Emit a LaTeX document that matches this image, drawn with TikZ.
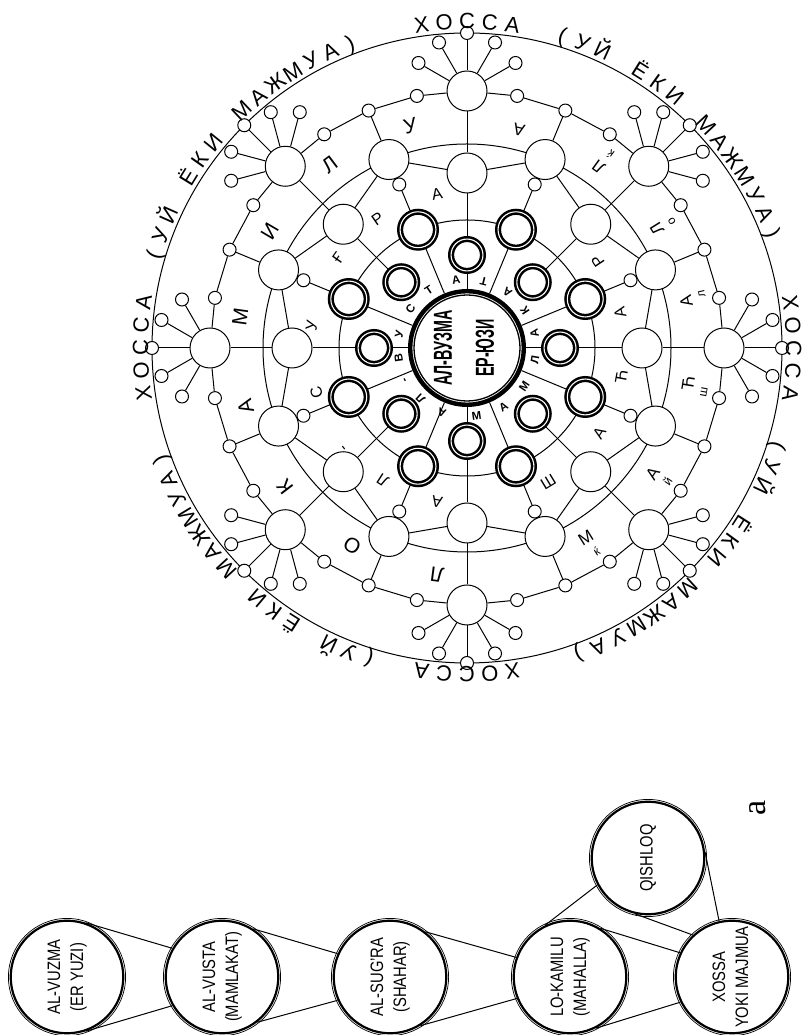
\documentclass[tikz,border=0pt]{standalone}
\usepackage{fontspec}
\setmainfont{Liberation Sans}
\newfontfamily\serifcap{Liberation Serif}
\usepackage{graphicx}
\usetikzlibrary{calc}

\pgfdeclarelayer{back}
\pgfsetlayers{back,main}

\newcommand\nar[1]{\scalebox{0.82}[1]{#1}}
\newcommand\cnd[1]{\scalebox{0.55}[1]{#1}}

\tikzset{
  ln/.style={line width=1pt},
  bigc/.style={circle,draw,fill=white,line width=1pt,minimum size=40pt,inner sep=0pt},
  smc/.style={circle,draw,fill=white,line width=1pt,minimum size=13pt,inner sep=0pt},
  dblc/.style={circle,draw,fill=white,double,line width=2.5pt,double distance=1.1pt,inner sep=0pt},
  hub/.style={circle,draw,fill=white,line width=4.4pt,minimum size=113.6pt,inner sep=0pt},
  capc/.style={circle,draw,fill=white,line width=2.2pt,minimum size=112.6pt,inner sep=0pt,
    font=\fontsize{18pt}{23pt}\selectfont},
  lbl/.style={inner sep=0pt,anchor=base,font=\fontsize{22pt}{24pt}\selectfont},
  let/.style={inner sep=0pt,font=\fontsize{#1pt}{#1pt}\selectfont},
  blet/.style={inner sep=0pt,font=\fontsize{11.5pt}{11.5pt}\selectfont\bfseries}
}

\begin{document}
\begin{tikzpicture}[x=1pt,y=1pt]
  \useasboundingbox (0,0) rectangle (802,1035);

  % --- the round scheme
  \begin{scope}[shift={(467,687)}]
    \node[hub] (ctr) at (0,0) {};
    \draw[line width=1.3pt] (ctr.center) circle (53pt);
    \foreach \k in {0,...,7} {
      \pgfmathsetmacro\angA{45*\k}
      \pgfmathsetmacro\angB{45*\k+22.5}
      \node[smc] (out\k) at (\angA:315) {};
      \node[bigc] (big\k) at (\angA:257) {};
      \node[bigc] (mid\k) at (\angA:175) {};
      \node[dblc,minimum size=31.9pt] (thi\k) at (\angA:93) {};
      \node[bigc] (rng\k) at (\angB:204) {};
      \node[smc] (rs\k) at (\angB:177) {};
      \node[dblc,minimum size=35.9pt] (tho\k) at (\angB:128) {};
      \foreach \i in {1,2,3}
        \node[smc] (pl\k\i) at (\angA+11.25*\i:257) {};
      \foreach \s/\j in {-60/1,-30/2,30/3,60/4}
        \node[smc] (sp\k\j) at ($(\angA:257)+(\angA+\s:56)$) {};
    }

    \begin{pgfonlayer}{back}
      \draw[ln] (0,0) circle (315pt) (0,0) circle (204pt) (0,0) circle (128pt);
      \foreach \k in {0,...,7} {
        \pgfmathtruncatemacro\nx{mod(\k+1,8)}
        \draw[ln] (out\k) -- (big\k) -- (mid\k) -- (thi\k);
        \draw[ln] (big\k) -- (pl\k1) -- (pl\k2) -- (pl\k3) -- (big\nx);
        \draw[ln] (pl\k2) -- (rng\k) -- (rs\k) -- (tho\k) -- (ctr);
        \draw[ln] (mid\k) -- (rng\k) -- (mid\nx);
        \foreach \j in {1,...,4} \draw[ln] (big\k) -- (sp\k\j);
      }
      \foreach \k in {0,2,4,6} \draw[ln] (thi\k) -- (ctr);
    \end{pgfonlayer}

    % middle
    \node[rotate=90,align=center,inner sep=0pt,font=\fontsize{26pt}{42pt}\selectfont\bfseries]
      (ctrtxt) at (-3,0) {\cnd{АЛ-ВУЗМА}\\\cnd{ЕР-ЮЗИ}};

    % outer captions
    \foreach \st [count=\q] in {98,8,-82,188}
      \foreach \ch [count=\i from 0] in {Х,О,С,С,А}
        \node[lbl,rotate=\st-4*\i-90] (xo\q\i) at (\st-4*\i:319) {\ch};
    \foreach \st [count=\q] in {163.5,73,-17.5,252.5}
      \foreach \ch [count=\i from 0] in {{(},У,Й,{},Ё,К,И,{},М,А,Ж,М,У,А,{)}}
        \node[lbl,rotate=\st-3.75*\i-90] (uy\q\i) at (\st-3.75*\i:319) {\ch};

    % letters between the rings
    \foreach \ch [count=\i from 0] in {Л,О,К,А,М,И,Л,У}
      \node[let=21,rotate=262.5-22.6*\i-90] (lk\i) at (262.5-22.6*\i:229) {\ch};
    \foreach \ang/\ch [count=\i] in {259/А,237.5/Л,219/-,196.5/С,171.7/У,145/Ғ,124.7/Р,101/А}
      \node[let=16,rotate=\ang-90] (sg\i) at (\ang:157) {\ch};
    \foreach \ang/\ch [count=\i] in {-58/М,-34/А,-9/Ћ,12/А,32/Л,54/Л,76.6/А}
      \node[let=17,rotate=\ang+90] (mh\i) at (\ang:224) {\ch};
    \foreach \ang/\ch [count=\i] in {-57.5/ќ,-33.7/й,-10.5/ш,12.9/л,31.8/о,53.4/ќ}
      \node[let=12,rotate=\ang+90] (qs\i) at (\ang:241) {\ch};
    \foreach \ang/\ch [count=\i] in {-58.8/Ш,-32.6/А,-10.5/Ћ,12.9/А,33.6/Р}
      \node[let=16,rotate=\ang+90] (sh\i) at (\ang:157) {\ch};
    \foreach \ang/\ch [count=\i] in {248.6/А,227.6/Л,207.6/-,188/В,168.7/У,145/С,123.5/Т,99/А}
      \node[blet,rotate=\ang-90] (vs\i) at (\ang:69) {\ch};
    \foreach \ang/\ch [count=\i] in {-82/М,-58/А,-34/М,-10/Л,12/А,33/К,54/А,76/Т}
      \node[blet,rotate=\ang+90] (mm\i) at (\ang:69) {\ch};
  \end{scope}

  % --- chain of levels
  \node[capc] (vuzma) at (67,58) {\rotatebox{90}{\begin{tabular}{@{}c@{}}\nar{AL-VUZMA}\\\nar{(ER YUZI)}\end{tabular}}};
  \node[capc] (vusta) at (222,58) {\rotatebox{90}{\begin{tabular}{@{}c@{}}\nar{AL-VUSTA}\\\nar{(MAMLAKAT)}\end{tabular}}};
  \node[capc] (sugra) at (390,58) {\rotatebox{90}{\begin{tabular}{@{}c@{}}\nar{AL-SUG'RA}\\\nar{(SHAHAR)}\end{tabular}}};
  \node[capc] (kamil) at (570,58) {\rotatebox{90}{\begin{tabular}{@{}c@{}}\nar{LO-KAMILU}\\\nar{(MAHALLA)}\end{tabular}}};
  \node[capc] (xossa) at (732,58) {\rotatebox{90}{\begin{tabular}{@{}c@{}}\nar{XOSSA}\\\nar{YOKI MAJMUA}\end{tabular}}};
  \node[capc] (qish) at (648,177) {\rotatebox{90}{\nar{QISHLOQ}}};
  \foreach \n in {vuzma,vusta,sugra,kamil,xossa,qish}
    \draw[line width=0.7pt] (\n.center) circle (58.6pt);

  \draw[ln] (vuzma.71) -- (vusta.150) (vuzma.-71) -- (vusta.-150);
  \draw[ln] (vusta.57) -- (sugra.156) (vusta.-52) -- (sugra.-156);
  \draw[ln] (sugra.52) -- (kamil.160) (sugra.-58) -- (kamil.-158);
  \draw[ln] (kamil.58) -- (xossa.155) (kamil.-63) -- (xossa.-154);
  \draw[ln] (kamil.116) -- (qish.208);
  \draw[ln] (qish.257) -- (xossa.133) (qish.6.5) -- (xossa.103);

  \node[rotate=90,inner sep=0pt,font=\serifcap\fontsize{34pt}{34pt}\selectfont] (cap) at (758,227) {а};
\end{tikzpicture}
\end{document}
